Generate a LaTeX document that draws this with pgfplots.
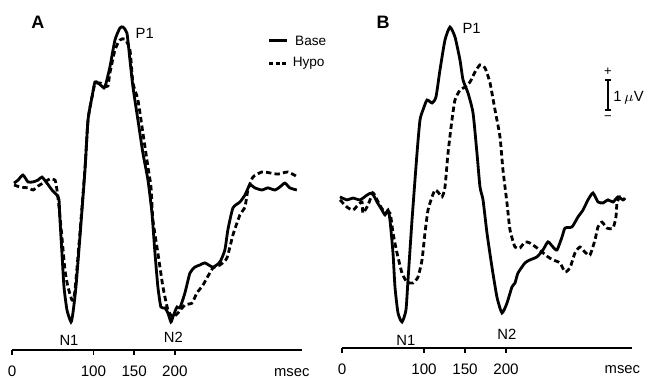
\documentclass[border=0pt]{standalone}
\usepackage{pgfplots}
\pgfplotsset{compat=1.18}
\usepackage{fontspec}
\setmainfont{Liberation Sans}
\begin{document}
\begin{tikzpicture}[font=\fontsize{7.4}{8}\selectfont]
\path[use as bounding box] (0,0) rectangle (324pt,189pt);
\pgfplotsset{erp/.style={
  scale only axis, clip=false,
  axis x line=bottom, axis y line=none,
  x axis line style={-, line width=1pt},
  xtick={0,100,150,200},
  tick align=outside, major tick length=2.5pt,
  tick style={black, line width=0.8pt},
  xticklabel style={font=\fontsize{7.6}{8}\selectfont, yshift=-2pt},
  /pgf/number format/assume math mode=true,
  ytick=\empty,
  every axis plot/.append style={smooth, tension=0.35, line width=1.4pt, black},
}}
% ---------- Panel A ----------
\begin{axis}[erp, anchor=south west, at={(6pt,14pt)}, width=145pt, height=165pt,
  xmin=0, xmax=356, ymin=-5.333, ymax=5.667]
% Base
\addplot[solid] coordinates {
(2.5,0.23)(7.4,0.33)(13.5,0.5)(19.6,0.27)(25.8,0.27)(31.9,0.33)(36.8,0.43)(42.9,0.23)(49.1,0)(55.2,-0.17)(57.7,-0.33)
(58.9,-1.0)(61.3,-2.1)(63.8,-3.23)(67.5,-4.0)(72.4,-4.4)(74.8,-4.1)(78.5,-3.23)(83.4,-1.57)(89.6,0.67)(93.3,2.33)
(98.2,3.1)(101.8,3.6)(105.5,3.57)(111.7,3.43)(114.1,3.43)(120.2,4.1)(126.4,5.0)(132.5,5.4)(136.2,5.43)(141.1,5.23)
(144.8,4.33)(148.5,3.43)(154.6,2.33)(160.7,1.23)(166.9,0.33)(171.8,-0.77)(175.5,-2.1)(179.1,-3.23)(182.8,-3.9)
(187.7,-3.93)(191.4,-4.1)(195.1,-4.4)(197.5,-4.23)(202.5,-3.9)(206.1,-3.93)(212.3,-3.43)(218.4,-2.77)(224.5,-2.57)
(230.7,-2.5)(236.8,-2.43)(246.6,-2.57)(255.2,-2.4)(261.3,-2.0)(265.0,-1.33)(271.2,-0.6)(279.8,-0.4)(285.9,-0.17)
(292.0,0.17)(298.2,0.07)(306.7,0)(314.1,0.07)(322.7,0)(328.8,0.1)(335.0,0.23)(341.1,0.07)(349.7,0)
};
% Hypo
\addplot[dash pattern=on 2.7pt off 1.6pt] coordinates {
(2.5,0.17)(9.8,0.1)(19.6,0.07)(25.8,0)(31.9,0.13)(38.0,0.23)(46.6,0.37)(52.8,0.33)(55.2,0)(57.7,-0.57)
(61.3,-1.57)(65.0,-2.67)(68.7,-3.23)(73.6,-3.67)(76.1,-3.6)(78.5,-3.0)(83.4,-1.43)(89.6,0.73)(93.3,2.33)
(98.2,3.1)(101.8,3.53)(108.0,3.57)(114.1,3.47)(117.8,3.47)(120.2,3.9)(126.4,4.67)(132.5,5.0)(138.7,5.03)
(144.8,4.67)(148.5,3.57)(154.6,3.0)(160.7,1.9)(166.9,0.77)(170.6,0.1)(173.0,-1.0)(179.1,-2.1)(185.3,-3.23)
(191.4,-4.0)(197.5,-4.23)(203.7,-4.1)(212.3,-3.83)(220.9,-3.77)(227.0,-3.43)(234.4,-3.17)(246.6,-2.6)
(255.2,-2.5)(263.8,-2.27)(271.2,-1.5)(279.8,-0.83)(285.9,-0.57)(289.6,0)(295.7,0.43)(306.7,0.6)(316.6,0.57)
(326.4,0.53)(338.7,0.6)(350.9,0.43)
};
\node[font=\bfseries\fontsize{9}{9}\selectfont] at (axis cs:31.9,5.6) {A};
\node at (axis cs:163,5.23) {P1};
\node at (axis cs:70,-5.0) {N1};
\node at (axis cs:198,-4.9) {N2};
\node at (axis cs:343.5,-6.1) {msec};
\draw[line width=1.4pt] (axis cs:316,4.98) -- (axis cs:337.5,4.98);
\node[anchor=west, font=\fontsize{6.8}{7}\selectfont] at (axis cs:339,4.98) {Base};
\draw[line width=1.4pt, dash pattern=on 2pt off 1.2pt] (axis cs:316,4.22) -- (axis cs:337.5,4.22);
\node[anchor=west, font=\fontsize{6.8}{7}\selectfont] at (axis cs:336,4.22) {Hypo};
\end{axis}
% ---------- Panel B ----------
\begin{axis}[erp, anchor=south west, at={(171pt,15pt)}, width=145pt, height=164pt,
  xmin=0, xmax=353.7, ymin=-5.267, ymax=5.667]
% Base
\addplot[solid] coordinates {
(-2.4,-0.23)(6.1,-0.33)(13.4,-0.27)(22.0,-0.33)(30.5,-0.17)(36.6,-0.1)(42.7,-0.4)(48.8,-0.67)(52.4,-0.83)
(56.1,-0.67)(58.5,-1.0)(62.2,-2.1)(64.6,-3.23)(68.3,-4.1)(73.2,-4.4)(78.0,-4.0)(80.5,-3.0)(85.4,-1.0)
(91.5,1.23)(95.1,2.33)(98.8,2.67)(103.7,3.0)(109.8,2.9)(114.6,3.1)(119.5,4.0)(125.6,5.0)(131.7,5.43)
(137.8,5.1)(143.9,4.33)(147.6,3.67)(153.7,3.23)(159.8,2.57)(164.6,1.23)(168.3,0.1)(172.0,-0.33)(176.8,-1.43)
(182.9,-2.57)(189.0,-3.57)(195.1,-4.1)(201.2,-3.77)(207.3,-3.23)(211.0,-3.1)(214.6,-2.77)(223.2,-2.43)
(229.3,-2.33)(237.8,-2.23)(245.1,-2.0)(251.2,-1.73)(257.3,-1.9)(262.2,-2.0)(268.3,-1.57)(272.0,-1.27)
(280.5,-1.23)(287.8,-0.9)(293.9,-0.67)(300.0,-0.33)(306.1,-0.1)(312.2,-0.4)(318.3,-0.43)(324.4,-0.33)
(330.5,-0.4)(336.6,-0.23)(342.7,-0.33)(345.1,-0.27)
};
% Hypo
\addplot[dash pattern=on 2.7pt off 1.6pt] coordinates {
(-2.4,-0.33)(6.1,-0.57)(13.4,-0.67)(19.5,-0.5)(24.4,-0.4)(25.6,-0.77)(31.7,-0.5)(37.8,-0.1)(42.7,-0.33)
(50.0,-0.67)(58.5,-0.77)(62.2,-1.43)(67.1,-2.1)(73.2,-2.77)(79.3,-3.07)(86.6,-3.1)(92.7,-2.9)(97.6,-2.33)
(101.2,-1.43)(104.9,-0.67)(109.8,-0.23)(113.4,0)(117.1,-0.07)(122.0,-0.23)(125.6,0.1)(129.3,1.23)(134.1,2.33)
(137.8,3.0)(143.9,3.33)(150.0,3.43)(156.1,3.6)(162.2,3.93)(168.3,4.17)(174.4,4.07)(180.5,3.57)(186.6,2.67)
(192.7,1.77)(196.3,0.67)(201.2,-0.43)(204.9,-1.33)(211.0,-1.9)(217.1,-1.93)(223.2,-1.73)(229.3,-1.77)
(237.8,-1.93)(251.2,-2.23)(257.3,-2.33)(265.9,-2.43)(272.0,-2.73)(278.0,-2.6)(284.1,-2.1)(290.2,-1.9)
(296.3,-2.07)(302.4,-2.17)(308.5,-1.67)(312.2,-1.23)(317.1,-1.07)(323.2,-1.27)(330.5,-1.27)(334.1,-0.9)
(335.4,-0.43)(339.0,-0.23)(345.1,-0.33)
};
\node[font=\bfseries\fontsize{9}{9}\selectfont] at (axis cs:50.3,5.6) {B};
\node at (axis cs:158,5.37) {P1};
\node at (axis cs:78,-5.0) {N1};
\node at (axis cs:201,-4.8) {N2};
\node at (axis cs:342,-6.0) {msec};
% scale bar 1 microvolt
\draw[line width=0.9pt] (axis cs:324.4,3.67) -- (axis cs:324.4,2.67);
\draw[line width=0.9pt] (axis cs:320.5,3.67) -- (axis cs:328.3,3.67);
\draw[line width=0.9pt] (axis cs:320.5,2.67) -- (axis cs:328.3,2.67);
\node[font=\fontsize{6.5}{6}\selectfont] at (axis cs:324.4,3.95) {+};
\node[font=\fontsize{6.5}{6}\selectfont] at (axis cs:324.4,2.40) {\textminus};
\node[anchor=west, inner sep=0pt] at (axis cs:330.5,3.07) {1\,$\mu$V};
\end{axis}
\end{tikzpicture}
\end{document}
